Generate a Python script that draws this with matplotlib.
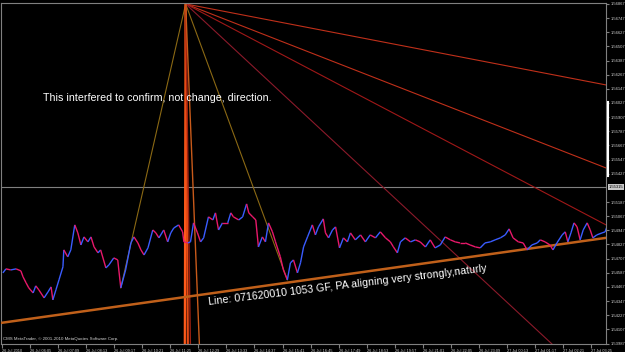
import matplotlib
matplotlib.use("Agg")
import matplotlib.pyplot as plt
import matplotlib.transforms as mtransforms
from matplotlib.collections import LineCollection
from matplotlib.lines import Line2D

# GBPUSD quotes (minutes after the first bar, price)
minutes = [2, 9, 20, 32, 43, 48, 55, 61, 71, 77, 84, 96, 105, 112, 116, 123, 130, 139, 141, 150,
           157, 166, 173, 180, 187, 196, 203, 210, 219, 225, 237, 244, 255, 264, 271, 282, 294, 301,
           310, 317, 324, 333, 344, 351, 358, 369, 378, 385, 392, 403, 412, 415, 424, 430, 437, 446,
           453, 460, 471, 481, 487, 494, 503, 515, 522, 528, 540, 549, 558, 563, 572, 579, 585, 594,
           601, 608, 617, 624, 635, 642, 651, 658, 665, 674, 681, 688, 697, 708, 715, 722, 733, 738,
           745, 754, 761, 770, 779, 788, 795, 806, 818, 829, 840, 852, 863, 875, 886, 893, 902, 909,
           920, 932, 943, 954, 966, 977, 988, 1000, 1011, 1023, 1034, 1045, 1057, 1068, 1080, 1091,
           1102, 1114, 1125, 1137, 1148, 1157, 1166, 1178, 1189, 1198, 1209, 1221, 1228, 1239, 1250,
           1257, 1266, 1278, 1285, 1291, 1298, 1305, 1312, 1319, 1326, 1335, 1342, 1348, 1357, 1369,
           1376, 1380]
prices = [1.54586, 1.54620, 1.54611, 1.54620, 1.54603, 1.54552, 1.54501, 1.54459, 1.54416, 1.54476,
          1.54442, 1.54374, 1.54425, 1.54467, 1.54357, 1.54442, 1.54527, 1.54637, 1.54781, 1.54722,
          1.54781, 1.54993, 1.54925, 1.54823, 1.54891, 1.54849, 1.54891, 1.54806, 1.54756, 1.54781,
          1.54628, 1.54654, 1.54713, 1.54696, 1.54459, 1.54611, 1.54840, 1.54891, 1.54840, 1.54781,
          1.54738, 1.54798, 1.54950, 1.54925, 1.54883, 1.54950, 1.54849, 1.54925, 1.54967, 1.54993,
          1.54934, 1.54849, 1.54840, 1.54849, 1.55010, 1.54925, 1.54849, 1.54883, 1.55061, 1.55035,
          1.55095, 1.54950, 1.55010, 1.55010, 1.55095, 1.55061, 1.55035, 1.55061, 1.55171, 1.55095,
          1.55061, 1.55035, 1.54806, 1.54891, 1.54849, 1.55010, 1.54934, 1.54849, 1.54722, 1.54611,
          1.54527, 1.54671, 1.54696, 1.54586, 1.54671, 1.54806, 1.54891, 1.54993, 1.54908, 1.54976,
          1.55044, 1.54925, 1.54883, 1.54950, 1.54976, 1.54798, 1.54883, 1.54849, 1.54925, 1.54866,
          1.54908, 1.54849, 1.54908, 1.54883, 1.54934, 1.54883, 1.54849, 1.54806, 1.54756, 1.54849,
          1.54883, 1.54849, 1.54866, 1.54849, 1.54806, 1.54866, 1.54798, 1.54823, 1.54891, 1.54866,
          1.54849, 1.54840, 1.54840, 1.54823, 1.54806, 1.54798, 1.54840, 1.54849, 1.54866, 1.54883,
          1.54908, 1.54959, 1.54883, 1.54849, 1.54840, 1.54781, 1.54823, 1.54840, 1.54866, 1.54849,
          1.54823, 1.54781, 1.54840, 1.54908, 1.54934, 1.54849, 1.54925, 1.55010, 1.54976, 1.54866,
          1.54950, 1.55010, 1.54950, 1.54883, 1.54908, 1.54925, 1.54934, 1.54976]

time_labels = ["26 Jul 2010", "26 Jul 06:05", "26 Jul 07:09", "26 Jul 08:13", "26 Jul 09:17",
               "26 Jul 10:21", "26 Jul 11:25", "26 Jul 12:29", "26 Jul 13:33", "26 Jul 14:37",
               "26 Jul 15:41", "26 Jul 16:45", "26 Jul 17:49", "26 Jul 18:53", "26 Jul 19:57",
               "26 Jul 21:01", "26 Jul 22:05", "26 Jul 23:09", "27 Jul 00:13", "27 Jul 01:17",
               "27 Jul 02:21", "27 Jul 03:25"]
label_minutes = 64

price_top = 1.56867
price_step = 0.0012
n_price_ticks = 25
bid = 1.55315

# fan drawn from the spike high
apex_t, apex_p = 419, 1.56867
fan_t = [1378, 1378, 1378, 1257, 271, 651, 417, 424, 430, 451]
fan_p = [1.56180, 1.55476, 1.54993, 1.53975, 1.54459, 1.54527, 1.53916, 1.53916, 1.53916, 1.53916]
fan_colors = ['#c0301a', '#c0301a', '#a01818', '#8b1a2a', '#8b6914', '#8b6914',
              '#ff5a1a', '#e84a14', '#a02010', '#c85a1a']
fan_widths = [0.8, 0.8, 0.8, 0.8, 0.8, 0.8, 1.6, 1.6, 1.0, 1.0]

# support trendline
trend_t = [-2, 1378]
trend_p = [1.54162, 1.54883]

fig = plt.figure(figsize=(6.25, 3.52), dpi=100, facecolor='black')
ax = fig.add_axes([1 / 625, 8.5 / 352, 605 / 625, 340.5 / 352])
ax.set_facecolor('black')

ax.set_xlim(-2.3, 1378)
ax.set_ylim(1.53988, 1.56875)

# fan + trendline
for t, p, c, w in zip(fan_t, fan_p, fan_colors, fan_widths):
    ax.plot([apex_t, t], [apex_p, p], color=c, lw=w, zorder=2)
ax.plot(trend_t, trend_p, color='#c0601a', lw=1.8, zorder=3)

# current bid line
ax.axhline(bid, color='#808080', lw=0.8, zorder=1)

# price line, blue up / red down
segs = [[(minutes[i], prices[i]), (minutes[i + 1], prices[i + 1])] for i in range(len(minutes) - 1)]
cols = ['#3a5cff' if prices[i + 1] > prices[i] else '#e8186a' for i in range(len(minutes) - 1)]
ax.add_collection(LineCollection(segs, colors=cols, linewidths=1.0, zorder=4))

# axes cosmetics
for side in ['left', 'right', 'top', 'bottom']:
    ax.spines[side].set_color('#808080')
    ax.spines[side].set_linewidth(0.8)
ax.spines['top'].set_linestyle((0, (1, 1)))

ticks_p = [price_top - k * price_step for k in range(n_price_ticks)]
ax.yaxis.tick_right()
ax.set_yticks([p for k, p in enumerate(ticks_p) if k != 13])
ax.set_yticklabels([f'{p:.5f}' for k, p in enumerate(ticks_p) if k != 13])
ax.tick_params(axis='y', colors='#808080', labelcolor='#d0d0d0', labelsize=3.0, length=2, pad=1.2)
for lab in ax.get_yticklabels():
    lab.set_family('Liberation Sans')

ax.set_xticks([k * label_minutes for k in range(len(time_labels))])
ax.set_xticklabels(time_labels)
ax.tick_params(axis='x', colors='#808080', labelcolor='#d0d0d0', labelsize=2.8, length=3, pad=0.6)
for lab in ax.get_xticklabels():
    lab.set_ha('left')
    lab.set_family('Liberation Sans')

# bid label on price scale
trans = mtransforms.blended_transform_factory(ax.transAxes, ax.transData)
ax.text(1.005, bid, f'{bid:.5f}', transform=trans, ha='left', va='center', fontsize=3.0,
        family='Liberation Sans', color='black',
        bbox=dict(boxstyle='square,pad=0.2', fc='#c8c8c8', ec='none'))

# scroll marker on the price scale
fig.add_artist(Line2D([607.5 / 625, 607.5 / 625], [1 - 102 / 352, 1 - 176 / 352],
                      color='white', lw=1.5))

# annotations
fig.text(43 / 625, 1 - 98 / 352, 'This interfered to confirm, not change, direction.',
         color='white', fontsize=7.7, family='Liberation Sans', ha='left', va='center')
fig.text(348 / 625, 1 - 285 / 352, 'Line: 071620010 1053 GF, PA aligning very strongly,naturly',
         color='white', fontsize=7.7, family='Liberation Sans', ha='center', va='center',
         rotation=6.9, rotation_mode='anchor')
fig.text(3 / 625, 1 - 339 / 352, 'CMS MetaTrader, \u00a9 2001-2010 MetaQuotes Software Corp.',
         color='#d0d0d0', fontsize=3.2, family='Liberation Sans', ha='left', va='center')

fig.savefig('out.png', dpi=100, facecolor='black')
